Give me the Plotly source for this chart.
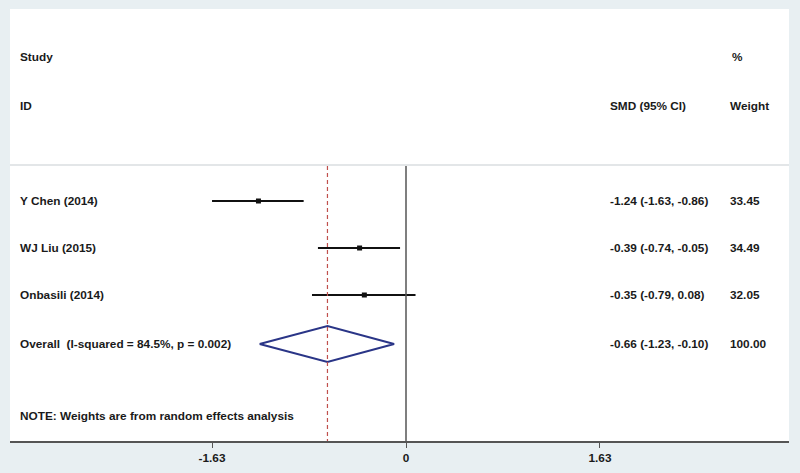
import plotly.graph_objects as go

# ---- data ----
studies = ["Y Chen (2014)", "WJ Liu (2015)", "Onbasili (2014)"]
smd = [-1.24, -0.39, -0.35]
ci_low = [-1.63, -0.74, -0.79]
ci_high = [-0.86, -0.05, 0.08]
weights = [33.45, 34.49, 32.05]
overall_label = "Overall  (I-squared = 84.5%, p = 0.002)"
overall_smd = -0.66
overall_low = -1.23
overall_high = -0.10
overall_weight = 100.00
tick_vals = [-1.63, 0, 1.63]
tick_text = ["-1.63", "0", "1.63"]
note = "NOTE: Weights are from random effects analysis"

# ---- layout helpers (pixel-like vertical coordinates) ----
W, H = 800, 473
ML, MR, MT, MB = 10, 11, 9, 32
Y_TOP, Y_BOT = MT, H - MB
row_y = [201 + 47 * i for i in range(len(studies))]
overall_y = 344
sep_y = 165
study_hdr_y, id_hdr_y, note_y = 57, 106, 416
dia_half = 18

BORDER = "#e8eff2"
FONT = "Liberation Sans"
TXT = "#1a1a1a"
FS = 11.8

fig = go.Figure()

# CI lines
for y, lo, hi in zip(row_y, ci_low, ci_high):
    fig.add_trace(go.Scatter(x=[lo, hi], y=[y, y], mode="lines",
                             line=dict(color="#111111", width=2),
                             hoverinfo="skip", showlegend=False))
# point estimates
fig.add_trace(go.Scatter(x=smd, y=row_y, mode="markers",
                         marker=dict(symbol="square", size=5, color="#111111"),
                         showlegend=False))

# overall diamond
fig.add_trace(go.Scatter(
    x=[overall_low, overall_smd, overall_high, overall_smd, overall_low],
    y=[overall_y, overall_y - dia_half, overall_y, overall_y + dia_half, overall_y],
    mode="lines", line=dict(color="#2a3587", width=2),
    hoverinfo="skip", showlegend=False))

shapes = [
    # header separator
    dict(type="line", xref="paper", yref="y", x0=0, x1=1, y0=sep_y, y1=sep_y,
         line=dict(color="#e3e6e8", width=2)),
    # null line
    dict(type="line", xref="x", yref="y", x0=0, x1=0, y0=sep_y + 1, y1=Y_BOT,
         line=dict(color="#555555", width=1.5)),
    # overall effect dashed line
    dict(type="line", xref="x", yref="y", x0=overall_smd, x1=overall_smd,
         y0=sep_y + 1, y1=Y_BOT, line=dict(color="#c0504d", width=1.2, dash="4px,3px")),
]

ann = []
def txt(x, y, s, anchor="left"):
    ann.append(dict(x=x, y=y, xref="paper", yref="y", text=s, showarrow=False,
                    xanchor=anchor, yanchor="middle",
                    font=dict(family=FONT, size=FS, color=TXT, weight="bold")))

px = lambda p: (p - ML) / (W - ML - MR)
txt(px(18), study_hdr_y, "Study")
txt(px(18), id_hdr_y, "ID")
txt(px(730), study_hdr_y, "%")
txt(px(608), id_hdr_y, "SMD (95% CI)")
txt(px(728), id_hdr_y, "Weight")
for y, s, e, lo, hi, w in zip(row_y, studies, smd, ci_low, ci_high, weights):
    txt(px(18), y, s)
    txt(px(608), y, f"{e:.2f} ({lo:.2f}, {hi:.2f})")
    txt(px(728), y, f"{w:.2f}")
txt(px(18), overall_y, overall_label)
txt(px(608), overall_y, f"{overall_smd:.2f} ({overall_low:.2f}, {overall_high:.2f})")
txt(px(728), overall_y, f"{overall_weight:.2f}")
txt(px(18), note_y, note)

x0_px = 406
scale = 119.0
xr = [(ML - x0_px) / scale, (W - MR - x0_px) / scale]

fig.update_layout(
    width=W, height=H,
    margin=dict(l=ML, r=MR, t=MT, b=MB),
    paper_bgcolor=BORDER, plot_bgcolor="white",
    shapes=shapes, annotations=ann, showlegend=False,
    xaxis=dict(range=xr, tickvals=tick_vals, ticktext=tick_text,
               showgrid=False, zeroline=False, showline=True,
               linecolor="#555555", linewidth=2, ticks="outside", ticklen=5,
               tickcolor="#555555", tickwidth=1,
               tickfont=dict(family=FONT, size=FS, color=TXT, weight="bold")),
    yaxis=dict(range=[Y_BOT, Y_TOP], showgrid=False, zeroline=False,
               showticklabels=False, showline=False),
)

fig.write_html("out.html", config={"displayModeBar": False},
               post_script="document.body.style.margin='0';document.body.style.overflow='hidden';")
